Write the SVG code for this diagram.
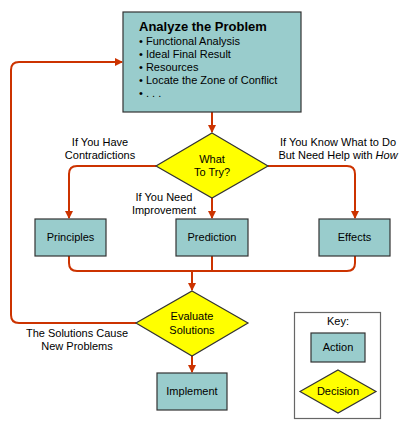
<svg xmlns="http://www.w3.org/2000/svg" width="413" height="430" viewBox="0 0 413 430">
<defs>
<style>
.act{fill:#99CCCC;stroke:#333333;stroke-width:1.2}
.dec{fill:#FFFF00;stroke:#333333;stroke-width:1.2}
.t{font-family:"Liberation Sans",Arial,sans-serif;font-size:11px;fill:#000}
.c{text-anchor:middle}
.ln{fill:none;stroke:#CC3300;stroke-width:2}
</style>
<marker id="ah" viewBox="0 0 8 8" refX="7" refY="4" markerWidth="8" markerHeight="8" markerUnits="userSpaceOnUse" orient="auto">
<path d="M0,0 L8,4 L0,8 Z" fill="#CC3300"/>
</marker>
</defs>
<rect width="413" height="430" fill="#fff"/>
<g id="connectors">
<path class="ln" d="M212,112 V132" marker-end="url(#ah)"/>
<path class="ln" d="M156,166 H77 Q69,166 69,174 V218" marker-end="url(#ah)"/>
<path class="ln" d="M268,166 H347 Q355,166 355,174 V218" marker-end="url(#ah)"/>
<path class="ln" d="M212,198 V218" marker-end="url(#ah)"/>
<path class="ln" d="M69,256 V263 Q69,271 77,271 H347 Q355,271 355,263 V256"/>
<path class="ln" d="M212,256 V271"/>
<path class="ln" d="M192,271 V290" marker-end="url(#ah)"/>
<path class="ln" d="M192,356 V372" marker-end="url(#ah)"/>
<path class="ln" d="M136,323 H19 Q11,323 11,315 V70 Q11,62 19,62 H122" marker-end="url(#ah)"/>
</g>
<g id="analyze">
<rect class="act" x="123" y="12" width="178" height="100"/>
<text class="t" x="139" y="31" style="font-size:13px;font-weight:bold">Analyze the Problem</text>
<text class="t" x="139" y="45">• Functional Analysis</text>
<text class="t" x="139" y="58">• Ideal Final Result</text>
<text class="t" x="139" y="71">• Resources</text>
<text class="t" x="139" y="84">• Locate the Zone of Conflict</text>
<text class="t" x="139" y="97">• . . .</text>
</g>
<g id="whattotry">
<polygon class="dec" points="212,133 268,166 212,198 156,166"/>
<text class="t c" x="212" y="163">What</text>
<text class="t c" x="212" y="176">To Try?</text>
</g>
<g id="labels">
<text class="t c" x="100" y="146">If You Have</text>
<text class="t c" x="100" y="159">Contradictions</text>
<text class="t c" x="338" y="146">If You Know What to Do</text>
<text class="t c" x="338" y="159">But Need Help with <tspan font-style="italic">How</tspan></text>
<text class="t c" x="164" y="201">If You Need</text>
<text class="t c" x="164" y="214">Improvement</text>
<text class="t c" x="77" y="337">The Solutions Cause</text>
<text class="t c" x="77" y="350">New Problems</text>
</g>
<g id="principles">
<rect class="act" x="35" y="219" width="71" height="37"/>
<text class="t c" x="70.5" y="241">Principles</text>
</g>
<g id="prediction">
<rect class="act" x="176" y="219" width="72" height="37"/>
<text class="t c" x="212" y="241">Prediction</text>
</g>
<g id="effects">
<rect class="act" x="319" y="219" width="71" height="37"/>
<text class="t c" x="354.5" y="241">Effects</text>
</g>
<g id="evaluate">
<polygon class="dec" points="192,291 248,323 192,356 136,323"/>
<text class="t c" x="192" y="320">Evaluate</text>
<text class="t c" x="192" y="334">Solutions</text>
</g>
<g id="implement">
<rect class="act" x="157" y="373" width="70" height="37"/>
<text class="t c" x="192" y="395">Implement</text>
</g>
<g id="key">
<rect x="294.5" y="312.5" width="86" height="106" fill="#fff" stroke="#666" stroke-width="1.2"/>
<text class="t c" x="338" y="325">Key:</text>
<rect class="act" x="311" y="333" width="54" height="29"/>
<text class="t c" x="338" y="351">Action</text>
<polygon class="dec" points="338,370 376,391.5 338,413 300,391.5"/>
<text class="t c" x="338" y="395">Decision</text>
</g>
</svg>
